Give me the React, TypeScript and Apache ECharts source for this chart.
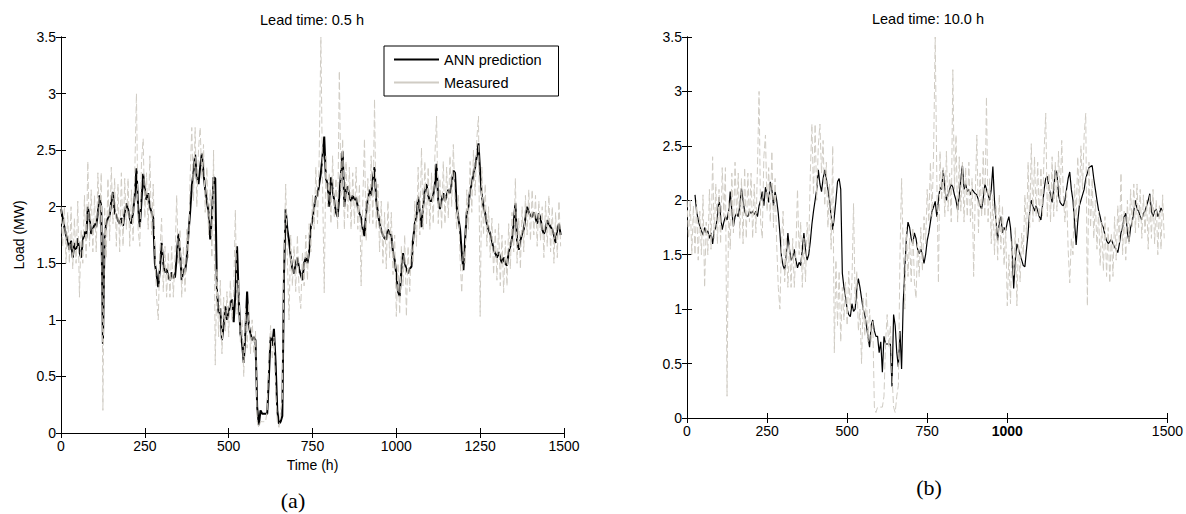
import React, { useEffect, useRef } from "react";
import * as echarts from "echarts";

// sampling step of every series below, in hours
const STEP_H = 5;

const X_TICKS_A = [0, 250, 500, 750, 1000, 1250, 1500];
const X_TICKS_B = [0, 250, 500, 750, 1000, 1500];

const TITLE_A = "Lead time: 0.5 h";
const TITLE_B = "Lead time: 10.0 h";

// measured load (MW), same record in both panels
const MEASURED = [
  2.0, 1.65, 2.0, 1.5, 1.95, 1.5, 2.0, 1.45, 1.9, 1.5, 2.05, 1.2, 1.8, 1.5, 2.1, 1.55, 2.4, 1.65, 2.15, 1.6,
  2.1, 1.6, 2.3, 1.85, 2.3, 0.2, 2.0, 1.55, 2.25, 1.7, 2.35, 1.85, 2.25, 1.65, 2.2, 1.6, 2.3, 1.65, 2.25, 1.8,
  2.25, 1.65, 2.15, 1.7, 2.3, 3.0, 1.8, 1.65, 2.4, 2.6, 1.9, 2.3, 1.8, 2.45, 1.75, 2.2, 1.6, 1.2, 1.0, 1.6,
  1.9, 1.25, 1.65, 1.2, 1.6, 1.2, 1.65, 1.2, 1.55, 2.1, 1.5, 1.8, 1.2, 1.65, 1.25, 1.8, 1.55, 2.25, 2.7, 2.05,
  2.7, 2.0, 2.5, 2.7, 2.25, 2.55, 1.95, 2.35, 1.75, 2.15, 1.55, 2.5, 0.6, 1.45, 0.85, 1.35, 0.7, 1.2, 0.9, 1.25,
  0.85, 1.35, 1.0, 1.25, 1.97, 1.05, 1.35, 0.8, 1.0, 0.5, 1.1, 0.75, 1.15, 0.7, 1.0, 0.7, 0.9, 0.1, 0.05, 0.1,
  0.1, 0.1, 0.1, 0.2, 0.7, 0.95, 0.65, 0.85, 0.4, 0.1, 0.05, 0.2, 0.3, 1.5, 2.2, 1.55, 1.0, 1.75, 1.3, 1.65,
  1.25, 1.75, 1.25, 1.1, 1.6, 1.3, 1.75, 1.35, 1.85, 1.6, 2.1, 1.8, 2.35, 1.85, 2.45, 3.5, 2.2, 1.24, 2.45, 2.0,
  2.3, 1.85, 2.45, 1.9, 2.25, 1.8, 3.2, 2.1, 2.6, 1.8, 2.4, 1.9, 2.35, 1.8, 2.3, 1.85, 2.35, 1.8, 2.2, 1.3,
  2.05, 2.6, 1.7, 2.25, 1.85, 2.45, 1.85, 2.95, 1.8, 2.2, 1.6, 2.05, 1.5, 1.95, 1.45, 2.05, 1.55, 1.95, 1.4, 1.75,
  1.03, 1.5, 1.05, 1.65, 1.3, 1.75, 1.03, 1.65, 1.25, 1.7, 1.5, 2.05, 1.65, 2.35, 1.75, 2.52, 1.8, 2.4, 1.85, 2.35,
  1.8, 2.3, 1.85, 2.45, 2.8, 1.85, 2.25, 1.8, 2.4, 1.85, 2.35, 1.9, 2.45, 2.0, 2.55, 2.05, 1.8, 2.1, 1.55, 1.24,
  1.65, 1.5, 2.15, 1.8, 2.4, 1.95, 2.5, 2.1, 2.6, 2.8, 1.03, 2.35, 1.75, 2.2, 1.65, 2.0, 1.55, 1.9, 1.4, 1.8,
  1.35, 1.85, 1.3, 1.75, 1.24, 1.7, 1.3, 1.85, 1.45, 1.95, 1.6, 2.25, 1.5, 1.9, 1.45, 2.0, 1.6, 2.1, 1.75, 2.15,
  1.7, 2.15, 1.75, 2.1, 1.65, 2.05, 1.7, 2.0, 1.55, 2.05, 1.65, 2.1, 1.6, 2.0, 1.5, 1.95, 1.55, 2.05, 1.65, null,
];

// ANN prediction, lead time 0.5 h
const ANN_05H = [
  1.98, 1.9, 1.82, 1.75, 1.7, 1.62, 1.7, 1.55, 1.68, 1.62, 1.72, 1.6, 1.55, 1.7, 1.78, 1.72, 2.0, 1.9, 1.76, 1.8,
  1.85, 1.82, 1.95, 2.1, 2.0, 0.79, 1.75, 1.85, 1.9, 1.92, 2.05, 2.13, 1.95, 1.92, 1.88, 1.85, 1.9, 1.83, 1.95, 2.03,
  1.98, 1.9, 1.85, 1.95, 2.1, 2.34, 2.0, 1.82, 2.05, 2.29, 2.15, 2.06, 2.12, 2.0, 1.95, 1.9, 1.5, 1.4, 1.29, 1.45,
  1.68, 1.5, 1.42, 1.45, 1.38, 1.35, 1.42, 1.37, 1.38, 1.55, 1.76, 1.6, 1.35, 1.45, 1.42, 1.55, 1.76, 1.95, 2.18, 2.3,
  2.46, 2.25, 2.2, 2.35, 2.47, 2.3, 2.15, 2.05, 1.95, 1.71, 1.9, 2.26, 2.25, 1.26, 1.06, 1.1, 0.82, 0.95, 1.12, 1.0,
  1.06, 1.15, 1.18, 0.98, 1.23, 1.65, 1.2, 0.88, 0.79, 0.62, 0.9, 1.25, 0.95, 0.88, 0.82, 0.85, 0.82, 0.23, 0.07, 0.2,
  0.17, 0.17, 0.17, 0.17, 0.5, 0.85, 0.77, 0.92, 0.62, 0.2, 0.08, 0.1, 0.15, 1.4, 1.98, 1.8, 1.7, 1.56, 1.45, 1.41,
  1.5, 1.55, 1.45, 1.4, 1.35, 1.5, 1.55, 1.5, 1.6, 1.82, 1.88, 2.0, 2.09, 2.1, 2.2, 2.3, 2.45, 2.62, 2.25, 2.2,
  2.0, 2.26, 2.15, 2.05, 1.95, 1.91, 2.1, 2.3, 2.49, 2.0, 2.15, 2.18, 2.09, 2.05, 2.1, 2.06, 2.08, 2.0, 1.94, 1.9,
  1.8, 1.74, 1.95, 2.06, 2.15, 2.1, 2.25, 2.35, 2.05, 1.95, 1.85, 1.79, 1.75, 1.72, 1.71, 1.8, 1.76, 1.75, 1.6, 1.53,
  1.4, 1.25, 1.21, 1.45, 1.59, 1.5, 1.45, 1.41, 1.45, 1.47, 1.7, 1.85, 1.91, 2.09, 1.95, 1.82, 2.0, 2.15, 2.2, 2.1,
  2.05, 2.05, 2.1, 2.2, 2.38, 2.05, 1.98, 2.06, 2.12, 2.05, 2.1, 2.15, 2.12, 2.2, 2.32, 2.3, 2.0, 1.9, 1.8, 1.6,
  1.44, 1.7, 1.95, 2.0, 2.15, 2.2, 2.3, 2.35, 2.45, 2.56, 2.3, 2.1, 2.0, 1.94, 1.85, 1.8, 1.76, 1.7, 1.62, 1.59,
  1.55, 1.6, 1.55, 1.5, 1.55, 1.5, 1.48, 1.6, 1.65, 1.72, 1.85, 2.03, 1.7, 1.62, 1.7, 1.76, 1.8, 1.9, 2.0, 1.95,
  1.92, 1.91, 1.95, 1.9, 1.85, 1.94, 1.9, 1.8, 1.76, 1.8, 1.88, 1.85, 1.82, 1.8, 1.75, 1.68, 1.8, 1.85, 1.75, null,
];

// ANN prediction, lead time 10.0 h
const ANN_10H = [
  null, null, null, null, null, 2.05, 1.9, 1.82, 1.76, 1.72, 1.68, 1.75, 1.7, 1.72, 1.65, 1.7, 1.6, 1.72, 1.75, 1.85,
  2.03, 1.85, 1.73, 1.8, 1.85, 1.82, 1.9, 2.08, 1.9, 1.76, 1.85, 1.88, 1.85, 1.95, 2.11, 2.0, 1.9, 1.86, 1.85, 1.9,
  1.88, 1.9, 1.87, 1.9, 1.85, 1.95, 2.0, 2.08, 1.95, 2.12, 2.05, 1.98, 2.17, 2.1, 1.95, 2.08, 2.0, 1.88, 1.7, 1.48,
  1.4, 1.36, 1.5, 1.7, 1.55, 1.45, 1.48, 1.55, 1.45, 1.38, 1.43, 1.4, 1.55, 1.7, 1.55, 1.45, 1.5, 1.62, 1.78, 1.9,
  2.0, 2.1, 2.28, 2.15, 2.08, 2.2, 2.28, 2.2, 2.1, 2.0, 1.85, 1.73, 1.85, 2.0, 2.17, 2.2, 2.1, 1.33, 1.2, 1.11,
  1.0, 0.95, 0.93, 1.05, 0.98, 1.0, 1.18, 1.28, 1.2, 1.1, 1.0, 0.95, 0.85, 0.75, 0.65, 0.85, 0.9, 0.8, 0.75, 0.75,
  0.6, 0.7, 0.42, 0.75, 0.68, 0.68, 0.68, 0.68, 0.29, 0.95, 0.85, 0.6, 0.47, 0.8, 0.45, 1.05, 1.36, 1.65, 1.8, 1.75,
  1.65, 1.6, 1.7, 1.65, 1.55, 1.51, 1.55, 1.5, 1.42, 1.5, 1.63, 1.7, 1.8, 1.9, 1.94, 1.99, 1.85, 2.0, 2.12, 2.1,
  2.28, 2.1, 2.0, 2.05, 2.1, 2.15, 2.12, 2.05, 2.0, 1.91, 2.05, 2.2, 2.32, 2.1, 2.15, 2.08, 2.1, 2.05, 2.1, 2.08,
  2.06, 2.05, 2.0, 1.95, 1.92, 2.02, 2.15, 2.1, 2.05, 2.0, 2.1, 2.31, 2.0, 1.8, 1.63, 1.8, 1.85, 1.7, 1.75, 1.72,
  1.8, 1.85, 1.75, 1.55, 1.19, 1.45, 1.6, 1.55, 1.5, 1.45, 1.4, 1.39, 1.55, 1.7, 1.9, 2.0, 1.95, 1.9, 1.95, 1.9,
  1.85, 1.82, 1.95, 2.1, 2.2, 2.22, 2.12, 2.05, 1.98, 2.1, 2.28, 2.25, 2.05, 1.98, 1.96, 1.95, 2.0, 2.1, 2.2, 2.26,
  2.1, 2.0, 1.8, 1.59, 1.8, 1.95, 2.0, 2.05, 2.1, 2.2, 2.25, 2.3, 2.31, 2.32, 2.2, 2.1, 2.0, 1.91, 1.85, 1.78,
  1.75, 1.68, 1.63, 1.6, 1.62, 1.64, 1.6, 1.57, 1.55, 1.52, 1.6, 1.7, 1.75, 1.85, 1.88, 1.7, 1.62, 1.75, 1.8, 1.9,
  2.0, 1.92, 1.9, 1.85, 1.82, 1.88, 1.9, 1.95, 2.0, 2.06, 1.9, 1.85, 1.9, 1.92, 1.85, 1.88, 1.93, 1.9, null, null,
];

const FONT = "'Liberation Sans', Arial, Helvetica, sans-serif";
const SERIF = "'Liberation Serif', 'Times New Roman', serif";
const GRAY = "#d0ccc4";

const toPairs = (values: (number | null)[]) => values.map((v, i) => [i * STEP_H, v]);

const axisLineStyle = { lineStyle: { color: "#000", width: 1 } };
const tickStyle = { inside: true, length: 5, lineStyle: { color: "#000", width: 1 } };
const labelStyle = { color: "#000", fontSize: 14, fontFamily: FONT };

function xAxes(gridIndex: number, ticks: number[], withName: boolean) {
  const bottom: any = {
    type: "value",
    gridIndex,
    position: "bottom",
    min: 0,
    max: 1500,
    interval: 250,
    axisLine: { show: true, ...axisLineStyle },
    axisTick: { ...tickStyle, customValues: ticks },
    axisLabel: {
      ...labelStyle,
      margin: 6,
      customValues: ticks,
      // the 1000 label of panel (b) is printed in bold in the source figure
      formatter: (v: number) => (gridIndex === 1 && v === 1000 ? "{b|1000}" : String(v)),
      rich: { b: { ...labelStyle, fontWeight: "bold" } },
    },
    splitLine: { show: false },
  };
  if (withName) {
    bottom.name = "Time (h)";
    bottom.nameLocation = "middle";
    bottom.nameGap = 25;
    bottom.nameTextStyle = { ...labelStyle };
  }
  const top = {
    type: "value",
    gridIndex,
    position: "top",
    min: 0,
    max: 1500,
    interval: 250,
    axisLine: { show: true, ...axisLineStyle },
    axisTick: { ...tickStyle, customValues: ticks },
    axisLabel: { show: false },
    splitLine: { show: false },
  };
  return [bottom, top];
}

function yAxes(gridIndex: number, withName: boolean) {
  const left: any = {
    type: "value",
    gridIndex,
    position: "left",
    min: 0,
    max: 3.5,
    interval: 0.5,
    axisLine: { show: true, ...axisLineStyle },
    axisTick: { show: true, ...tickStyle },
    axisLabel: { ...labelStyle, margin: 5 },
    splitLine: { show: false },
  };
  if (withName) {
    left.name = "Load (MW)";
    left.nameLocation = "middle";
    left.nameGap = 35;
    left.nameTextStyle = { ...labelStyle };
  }
  const right = {
    type: "value",
    gridIndex,
    position: "right",
    min: 0,
    max: 3.5,
    interval: 0.5,
    axisLine: { show: true, ...axisLineStyle },
    axisTick: { show: true, ...tickStyle },
    axisLabel: { show: false },
    splitLine: { show: false },
  };
  return [left, right];
}

const App: React.FC = () => {
  const chartRef = useRef<HTMLDivElement>(null);

  useEffect(() => {
    if (!chartRef.current) return;
    const chart = echarts.init(chartRef.current, null, { renderer: "svg" });

    const measured = toPairs(MEASURED);

    chart.setOption({
      animation: false,
      backgroundColor: "#fff",
      textStyle: { fontFamily: FONT },
      grid: [
        { left: 61, top: 37, width: 503, height: 396 },
        { left: 687, top: 37, width: 483, height: 381 },
      ],
      xAxis: [...xAxes(0, X_TICKS_A, true), ...xAxes(1, X_TICKS_B, false)],
      yAxis: [...yAxes(0, true), ...yAxes(1, false)],
      legend: {
        left: 384,
        top: 46,
        orient: "vertical",
        backgroundColor: "#fff",
        borderColor: "#000",
        borderWidth: 1,
        borderRadius: 0,
        padding: [6, 17, 6, 9],
        itemWidth: 45,
        itemHeight: 14,
        itemGap: 8,
        // hide the marker ECharts puts in the middle of line icons
        itemStyle: { opacity: 0 },
        textStyle: { color: "#000", fontSize: 14.5, fontFamily: FONT },
        data: [
          { name: "ANN prediction" },
          { name: "Measured", lineStyle: { type: "solid" } },
        ],
      },
      graphic: [
        {
          type: "text",
          x: 312,
          y: 20,
          style: { text: TITLE_A, fill: "#000", fontSize: 14.5, fontFamily: FONT, align: "center", verticalAlign: "middle" },
        },
        {
          type: "text",
          x: 928,
          y: 19,
          style: { text: TITLE_B, fill: "#000", fontSize: 14.5, fontFamily: FONT, align: "center", verticalAlign: "middle" },
        },
        {
          type: "text",
          x: 293,
          y: 500,
          style: { text: "(a)", fill: "#000", fontSize: 22, fontFamily: SERIF, align: "center", verticalAlign: "middle" },
        },
        {
          type: "text",
          x: 929,
          y: 487,
          style: { text: "(b)", fill: "#000", fontSize: 22, fontFamily: SERIF, align: "center", verticalAlign: "middle" },
        },
      ],
      series: [
        {
          name: "ANN prediction",
          type: "line",
          xAxisIndex: 0,
          yAxisIndex: 0,
          data: toPairs(ANN_05H),
          symbol: "none",
          lineStyle: { color: "#000", width: 2 },
          itemStyle: { color: "#000" },
        },
        {
          name: "Measured",
          type: "line",
          xAxisIndex: 0,
          yAxisIndex: 0,
          data: measured,
          symbol: "none",
          lineStyle: { color: GRAY, width: 1, type: [7, 3] },
          itemStyle: { color: GRAY },
        },
        {
          name: "ANN prediction",
          type: "line",
          xAxisIndex: 2,
          yAxisIndex: 2,
          data: toPairs(ANN_10H),
          symbol: "none",
          lineStyle: { color: "#000", width: 1.2 },
          itemStyle: { color: "#000" },
        },
        {
          name: "Measured",
          type: "line",
          xAxisIndex: 2,
          yAxisIndex: 2,
          data: measured,
          symbol: "none",
          lineStyle: { color: GRAY, width: 1, type: [7, 3] },
          itemStyle: { color: GRAY },
        },
      ],
    });

    return () => {
      chart.dispose();
    };
  }, []);

  return (
    <div
      ref={chartRef}
      style={{ position: "fixed", left: 0, top: 0, width: "1186px", height: "514px", background: "#fff" }}
    />
  );
};

export default App;
